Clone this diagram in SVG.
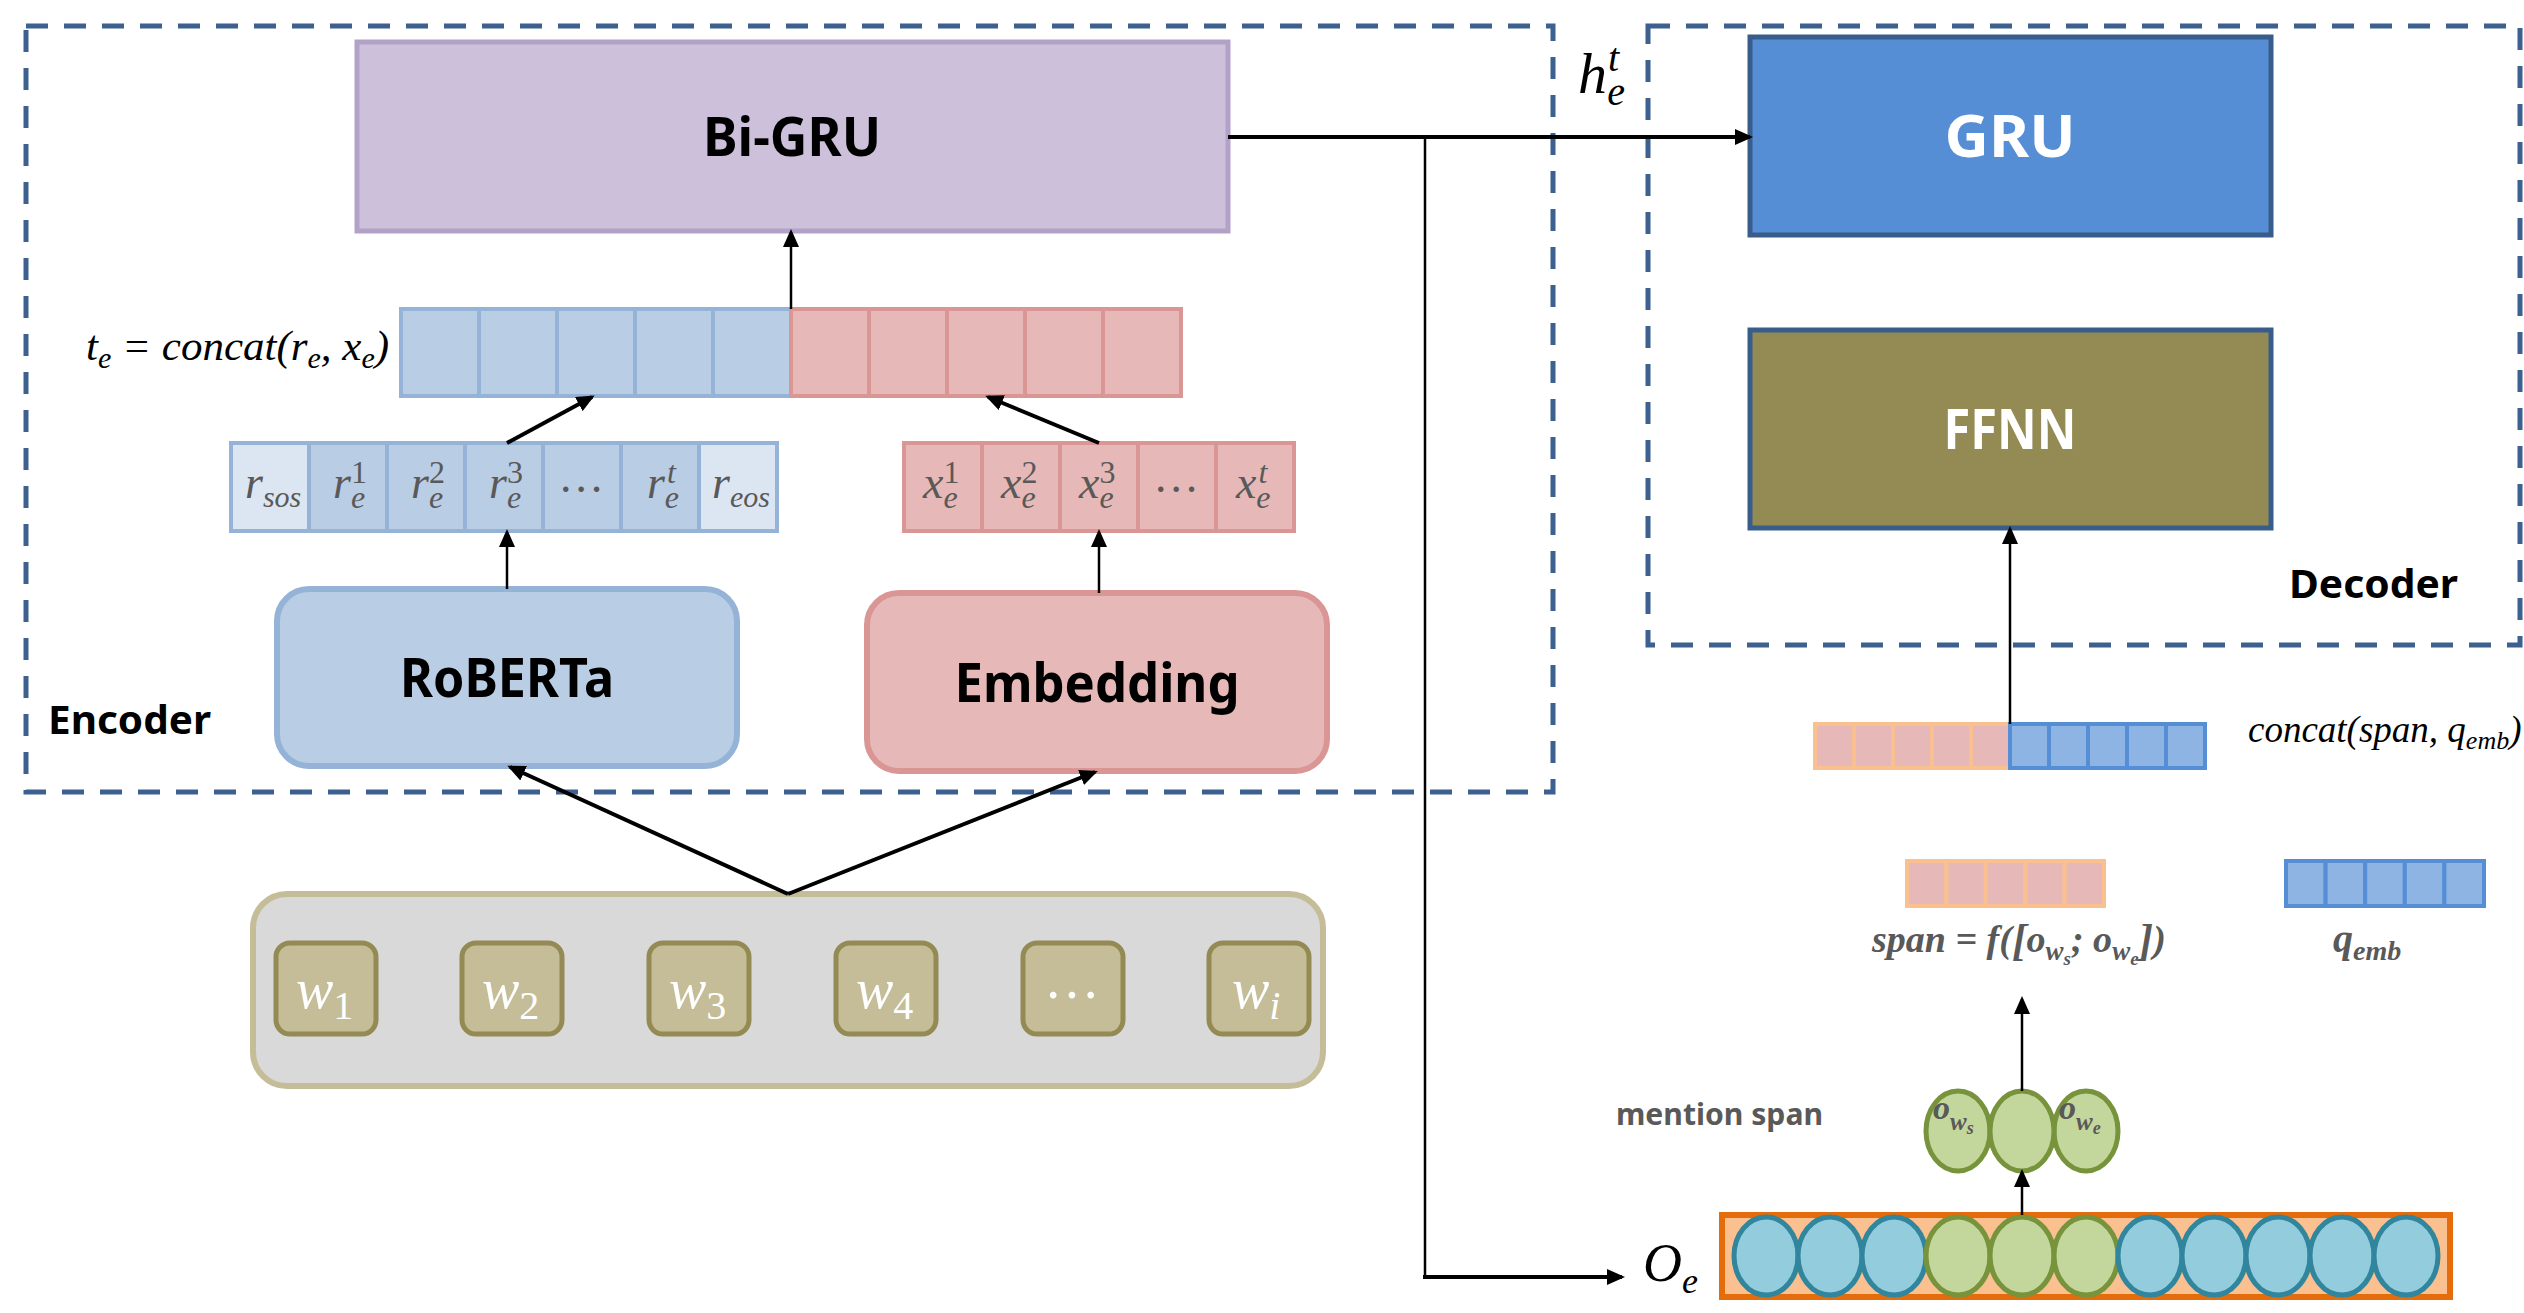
<svg xmlns="http://www.w3.org/2000/svg" width="2524" height="1313" viewBox="0 0 2524 1313">
  <style>
    .lbl{font-family:"Noto Sans","Liberation Sans",sans-serif;font-weight:700}
    .math{font-family:"Liberation Serif","DejaVu Serif",serif;font-style:italic}
    .up{font-style:normal}
    .grey{fill:#595959}
    .frame{fill:none;stroke:#3C6090;stroke-width:5;stroke-dasharray:22 16}
    .conn{fill:none;stroke:#000;stroke-width:4}
    .thin{fill:none;stroke:#000;stroke-width:2.5}
    .bc{fill:#B9CDE5;stroke:#95B3D7;stroke-width:4}
    .bcl{fill:#DCE6F2;stroke:#95B3D7;stroke-width:4}
    .rc{fill:#E6B9B8;stroke:#D99694;stroke-width:4}
    .oc{fill:#E6B9B8;stroke:#FAC090;stroke-width:4}
    .qc{fill:#8EB4E3;stroke:#558ED5;stroke-width:4}
    .word{fill:#C4BD97;stroke:#948A54;stroke-width:5}
    .wt{fill:#fff}
    .bl{fill:#93CDDD;stroke:#31859C;stroke-width:5}
    .gr{fill:#C3D69B;stroke:#77933C;stroke-width:5}
  </style>
  <defs>
    <marker id="ah" markerUnits="userSpaceOnUse" markerWidth="18" markerHeight="16" refX="15" refY="8" orient="auto">
      <path d="M0,0 L18,8 L0,16 z" fill="#000"/>
    </marker>
  </defs>

  <rect width="2524" height="1313" fill="#fff"/>

  <!-- dashed module frames -->
  <g id="encoder">
    <rect class="frame" x="26" y="26" width="1527" height="766"/>
    <text class="lbl" x="48" y="734" font-size="40" textLength="163" lengthAdjust="spacingAndGlyphs">Encoder</text>
  </g>
  <g id="decoder">
    <rect class="frame" x="1648" y="26" width="872" height="619"/>
    <text class="lbl" x="2289" y="598" font-size="40" textLength="169" lengthAdjust="spacingAndGlyphs">Decoder</text>
  </g>

  <!-- encoder -->
  <g id="bigru">
    <rect x="357" y="42" width="871" height="189" fill="#CCC0DA" stroke="#B3A2C7" stroke-width="5"/>
    <text class="lbl" x="792" y="156" font-size="54" text-anchor="middle" textLength="178" lengthAdjust="spacingAndGlyphs">Bi-GRU</text>
  </g>

  <g id="te-concat">
    <text class="math" x="86" y="360" font-size="43">t<tspan font-size="30" dy="8">e</tspan><tspan dy="-8"> = concat(r</tspan><tspan font-size="30" dy="8">e</tspan><tspan dy="-8">, x</tspan><tspan font-size="30" dy="8">e</tspan><tspan dy="-8">)</tspan></text>
    <rect class="bc" x="401" y="309" width="78" height="87"/>
    <rect class="bc" x="479" y="309" width="78" height="87"/>
    <rect class="bc" x="557" y="309" width="78" height="87"/>
    <rect class="bc" x="635" y="309" width="78" height="87"/>
    <rect class="bc" x="713" y="309" width="78" height="87"/>
    <rect class="rc" x="791" y="309" width="78" height="87"/>
    <rect class="rc" x="869" y="309" width="78" height="87"/>
    <rect class="rc" x="947" y="309" width="78" height="87"/>
    <rect class="rc" x="1025" y="309" width="78" height="87"/>
    <rect class="rc" x="1103" y="309" width="78" height="87"/>
  </g>

  <g id="roberta-out">
    <rect class="bcl" x="231" y="443" width="78" height="88"/>
    <rect class="bc" x="309" y="443" width="78" height="88"/>
    <rect class="bc" x="387" y="443" width="78" height="88"/>
    <rect class="bc" x="465" y="443" width="78" height="88"/>
    <rect class="bc" x="543" y="443" width="78" height="88"/>
    <rect class="bc" x="621" y="443" width="78" height="88"/>
    <rect class="bcl" x="699" y="443" width="78" height="88"/>
    <g class="math grey" font-size="46">
      <text x="245" y="498">r<tspan font-size="30" dy="9">sos</tspan></text>
      <text x="333" y="498">r<tspan class="up" font-size="32" dy="-15">1</tspan><tspan font-size="32" dx="-16" dy="25">e</tspan></text>
      <text x="411" y="498">r<tspan class="up" font-size="32" dy="-15">2</tspan><tspan font-size="32" dx="-16" dy="25">e</tspan></text>
      <text x="489" y="498">r<tspan class="up" font-size="32" dy="-15">3</tspan><tspan font-size="32" dx="-16" dy="25">e</tspan></text>
      <text x="582" y="492" text-anchor="middle">…</text>
      <text x="647" y="498">r<tspan font-size="32" dx="2" dy="-15">t</tspan><tspan font-size="32" dx="-11" dy="25">e</tspan></text>
      <text x="712" y="498">r<tspan font-size="30" dy="9">eos</tspan></text>
    </g>
  </g>

  <g id="embedding-out">
    <rect class="rc" x="904" y="443" width="78" height="88"/>
    <rect class="rc" x="982" y="443" width="78" height="88"/>
    <rect class="rc" x="1060" y="443" width="78" height="88"/>
    <rect class="rc" x="1138" y="443" width="78" height="88"/>
    <rect class="rc" x="1216" y="443" width="78" height="88"/>
    <g class="math grey" font-size="46">
      <text x="923" y="498">x<tspan class="up" font-size="32" dy="-15">1</tspan><tspan font-size="32" dx="-16" dy="25">e</tspan></text>
      <text x="1001" y="498">x<tspan class="up" font-size="32" dy="-15">2</tspan><tspan font-size="32" dx="-16" dy="25">e</tspan></text>
      <text x="1079" y="498">x<tspan class="up" font-size="32" dy="-15">3</tspan><tspan font-size="32" dx="-16" dy="25">e</tspan></text>
      <text x="1177" y="492" text-anchor="middle">…</text>
      <text x="1236" y="498">x<tspan font-size="32" dx="2" dy="-15">t</tspan><tspan font-size="32" dx="-11" dy="25">e</tspan></text>
    </g>
  </g>

  <g id="roberta">
    <rect x="277" y="589" width="460" height="177" rx="32" fill="#B9CDE5" stroke="#95B3D7" stroke-width="6"/>
    <text class="lbl" x="507" y="697" font-size="54" text-anchor="middle" textLength="214" lengthAdjust="spacingAndGlyphs">RoBERTa</text>
  </g>

  <g id="embedding">
    <rect x="867" y="593" width="460" height="178" rx="32" fill="#E6B9B8" stroke="#D99694" stroke-width="6"/>
    <text class="lbl" x="1097" y="702" font-size="54" text-anchor="middle" textLength="285" lengthAdjust="spacingAndGlyphs">Embedding</text>
  </g>

  <!-- input words -->
  <g id="words">
    <rect x="253" y="894" width="1070" height="192" rx="34" fill="#D9D9D9" stroke="#C4BD97" stroke-width="6"/>
    <rect class="word" x="276" y="943" width="100" height="91" rx="14"/>
    <rect class="word" x="462" y="943" width="100" height="91" rx="14"/>
    <rect class="word" x="649" y="943" width="100" height="91" rx="14"/>
    <rect class="word" x="836" y="943" width="100" height="91" rx="14"/>
    <rect class="word" x="1023" y="943" width="100" height="91" rx="14"/>
    <rect class="word" x="1209" y="943" width="100" height="91" rx="14"/>
    <g class="math wt" font-size="56">
      <text x="296" y="1008">w<tspan class="up" font-size="40" dy="11">1</tspan></text>
      <text x="482" y="1008">w<tspan class="up" font-size="40" dy="11">2</tspan></text>
      <text x="669" y="1008">w<tspan class="up" font-size="40" dy="11">3</tspan></text>
      <text x="856" y="1008">w<tspan class="up" font-size="40" dy="11">4</tspan></text>
      <text x="1073" y="998" text-anchor="middle">…</text>
      <text x="1232" y="1008">w<tspan font-size="40" dy="11">i</tspan></text>
    </g>
  </g>

  <!-- decoder -->
  <g id="gru">
    <rect x="1750" y="37" width="521" height="198" fill="#558ED5" stroke="#385D8A" stroke-width="5"/>
    <text class="lbl" x="2010" y="157" font-size="60" fill="#fff" text-anchor="middle" textLength="131" lengthAdjust="spacingAndGlyphs">GRU</text>
  </g>
  <g id="ffnn">
    <rect x="1750" y="330" width="521" height="198" fill="#948A54" stroke="#385D8A" stroke-width="5"/>
    <text class="lbl" x="2010" y="449" font-size="56" fill="#fff" text-anchor="middle" textLength="133" lengthAdjust="spacingAndGlyphs">FFNN</text>
  </g>

  <g id="concat-query">
    <rect class="oc" x="1815" y="724" width="39" height="44"/>
    <rect class="oc" x="1854" y="724" width="39" height="44"/>
    <rect class="oc" x="1893" y="724" width="39" height="44"/>
    <rect class="oc" x="1932" y="724" width="39" height="44"/>
    <rect class="oc" x="1971" y="724" width="39" height="44"/>
    <rect class="qc" x="2010" y="724" width="39" height="44"/>
    <rect class="qc" x="2049" y="724" width="39" height="44"/>
    <rect class="qc" x="2088" y="724" width="39" height="44"/>
    <rect class="qc" x="2127" y="724" width="39" height="44"/>
    <rect class="qc" x="2166" y="724" width="39" height="44"/>
    <text class="math" x="2248" y="742" font-size="37">concat(span, q<tspan font-size="26" dy="7">emb</tspan><tspan dy="-7">)</tspan></text>
  </g>

  <g id="span">
    <rect class="oc" x="1907" y="861" width="39.4" height="45"/>
    <rect class="oc" x="1946.4" y="861" width="39.4" height="45"/>
    <rect class="oc" x="1985.8" y="861" width="39.4" height="45"/>
    <rect class="oc" x="2025.2" y="861" width="39.4" height="45"/>
    <rect class="oc" x="2064.6" y="861" width="39.4" height="45"/>
    <text class="math grey" x="1872" y="952" font-size="38" font-weight="700">span = f(<tspan font-size="44" dy="3">[</tspan><tspan dy="-3">o</tspan><tspan font-size="27" dy="8">w</tspan><tspan font-size="19" dy="5">s</tspan><tspan dy="-13">; o</tspan><tspan font-size="27" dy="8">w</tspan><tspan font-size="19" dy="5">e</tspan><tspan font-size="44" dy="-10">]</tspan><tspan dy="-3">)</tspan></text>
  </g>

  <g id="q-emb">
    <rect class="qc" x="2286" y="861" width="39.6" height="45"/>
    <rect class="qc" x="2325.6" y="861" width="39.6" height="45"/>
    <rect class="qc" x="2365.2" y="861" width="39.6" height="45"/>
    <rect class="qc" x="2404.8" y="861" width="39.6" height="45"/>
    <rect class="qc" x="2444.4" y="861" width="39.6" height="45"/>
    <text class="math grey" x="2333" y="952" font-size="40" font-weight="700">q<tspan font-size="28" dy="8">emb</tspan></text>
  </g>

  <g id="mention-span">
    <text class="lbl grey" x="1616" y="1125" font-size="31" textLength="207" lengthAdjust="spacingAndGlyphs">mention span</text>
    <ellipse class="gr" cx="1958" cy="1131" rx="32" ry="40"/>
    <ellipse class="gr" cx="2086" cy="1131" rx="32" ry="40"/>
    <ellipse class="gr" cx="2022" cy="1131" rx="32" ry="40"/>
    <g class="math grey" font-weight="700">
      <text x="1933" y="1119" font-size="34">o<tspan font-size="25" dy="11">w</tspan><tspan font-size="18" dy="4">s</tspan></text>
      <text x="2059" y="1119" font-size="34">o<tspan font-size="25" dy="11">w</tspan><tspan font-size="18" dy="4">e</tspan></text>
    </g>
  </g>

  <g id="encoder-output">
    <text class="math" x="1643" y="1281" font-size="54">O<tspan font-size="36" dy="12">e</tspan></text>
    <rect x="1722" y="1215" width="728" height="82" fill="#FAC090" stroke="#E46C0A" stroke-width="6"/>
    <ellipse class="bl" cx="1766" cy="1256" rx="32" ry="39"/>
    <ellipse class="bl" cx="1830" cy="1256" rx="32" ry="39"/>
    <ellipse class="bl" cx="1894" cy="1256" rx="32" ry="39"/>
    <ellipse class="gr" cx="1958" cy="1256" rx="32" ry="39"/>
    <ellipse class="gr" cx="2022" cy="1256" rx="32" ry="39"/>
    <ellipse class="gr" cx="2086" cy="1256" rx="32" ry="39"/>
    <ellipse class="bl" cx="2150" cy="1256" rx="32" ry="39"/>
    <ellipse class="bl" cx="2214" cy="1256" rx="32" ry="39"/>
    <ellipse class="bl" cx="2278" cy="1256" rx="32" ry="39"/>
    <ellipse class="bl" cx="2342" cy="1256" rx="32" ry="39"/>
    <ellipse class="bl" cx="2406" cy="1256" rx="32" ry="39"/>
  </g>

  <g id="h-label">
    <text class="math" x="1578" y="93" font-size="58">h<tspan font-size="40" dx="1" dy="-22">t</tspan><tspan font-size="40" dx="-12" dy="34">e</tspan></text>
  </g>

  <!-- connectors -->
  <g id="connectors">
    <line class="conn" x1="1228" y1="137" x2="1750" y2="137" marker-end="url(#ah)"/>
    <polyline class="thin" points="1425,137 1425,1277"/>
    <line class="conn" x1="1423" y1="1277" x2="1622" y2="1277" marker-end="url(#ah)"/>
    <line class="thin" x1="791" y1="309" x2="791" y2="232" stroke-width="3" marker-end="url(#ah)"/>
    <line class="conn" x1="507" y1="443" x2="592" y2="397" marker-end="url(#ah)"/>
    <line class="conn" x1="1099" y1="443" x2="988" y2="397" marker-end="url(#ah)"/>
    <line class="thin" x1="507" y1="589" x2="507" y2="532" stroke-width="3" marker-end="url(#ah)"/>
    <line class="thin" x1="1099" y1="593" x2="1099" y2="532" stroke-width="3" marker-end="url(#ah)"/>
    <line class="conn" x1="788" y1="894" x2="510" y2="767" marker-end="url(#ah)"/>
    <line class="conn" x1="788" y1="894" x2="1095" y2="772" marker-end="url(#ah)"/>
    <line class="thin" x1="2010" y1="724" x2="2010" y2="529" marker-end="url(#ah)"/>
    <line class="thin" x1="2022" y1="1091" x2="2022" y2="999" marker-end="url(#ah)"/>
    <line class="thin" x1="2022" y1="1215" x2="2022" y2="1172" marker-end="url(#ah)"/>
  </g>
</svg>
